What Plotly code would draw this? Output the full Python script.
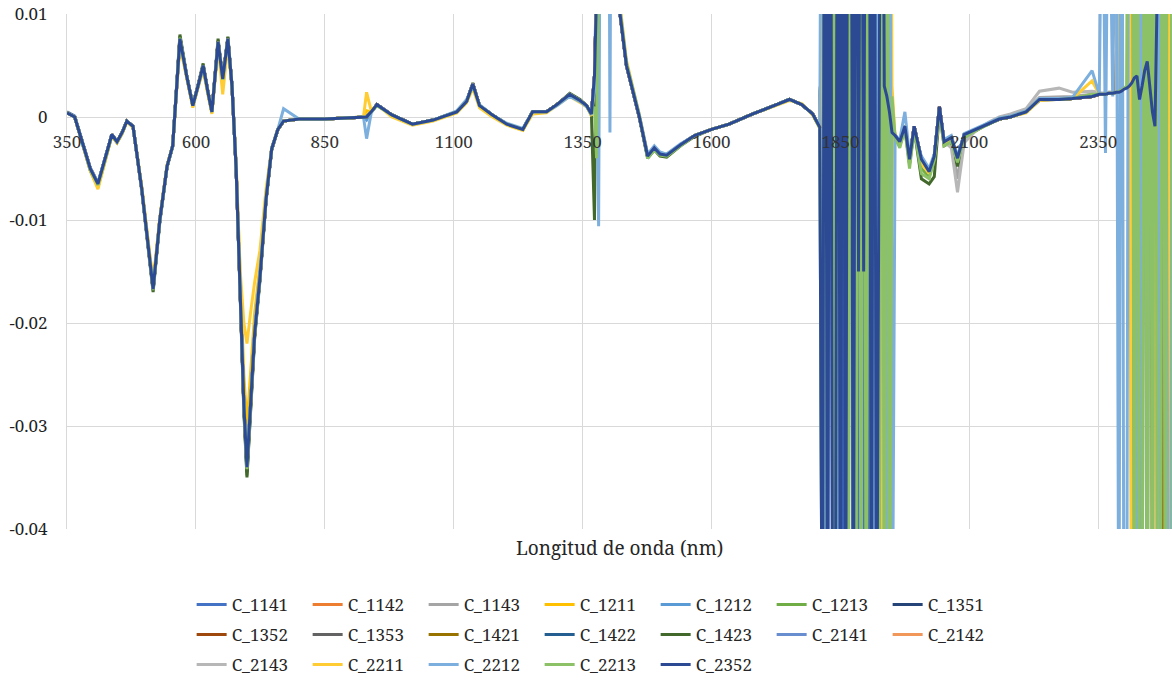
import plotly.graph_objects as go

# ---------------------------------------------------------------- data
# values are derivative absorbance in units of 1e-4
UNIT = 1e-4

wl_a = [350, 365, 380, 395, 410, 424, 437, 447, 457, 466,
        478, 495, 508, 517, 530, 544, 555, 569, 582, 594,
        604, 614, 623, 631, 643, 652, 662, 670, 678, 686,
        693, 699, 706, 714, 724, 736, 747, 759, 770, 800,
        850, 900, 925, 931, 940, 951, 980, 1020, 1060, 1106,
        1125, 1137, 1150, 1175, 1203, 1234, 1253, 1280, 1300, 1325,
        1345, 1358, 1367, 1373, 1377, 1381, 1385, 1400, 1403, 1406,
        1420, 1435, 1460, 1476, 1489, 1500, 1513, 1540, 1567, 1600,
        1634, 1680, 1731, 1751, 1775, 1796, 1810]
wl_band1 = [1815, 1820, 1825, 1830, 1835, 1840, 1845, 1850, 1855, 1860,
            1865, 1870, 1875, 1880, 1885, 1890, 1895, 1900, 1905, 1910,
            1915, 1920, 1925, 1930, 1935, 1940, 1945, 1950]
wl_b = [1956, 1965, 1975, 1984, 1993, 2007, 2022, 2032, 2042, 2051,
        2065, 2077, 2090, 2113, 2138, 2158, 2180, 2210, 2236, 2274,
        2300, 2338, 2352, 2358, 2364, 2370, 2378]
wl_band2 = [2385, 2390, 2395, 2400, 2405, 2410, 2415, 2420, 2425, 2430,
            2435, 2440, 2445, 2450, 2455, 2460, 2465, 2470, 2475, 2480,
            2485, 2490, 2495, 2500]
wavelength = wl_a + wl_band1 + wl_b + wl_band2

C_1141 = ([5, 1, -24, -49, -64, -40, -18, -24, -15, -4,
           -9, -69, -128, -165, -100, -48, -28, 75, 40, 11,
           30, 49, 25, 5, 72, 37, 75, 30, -50, -178,
           -278, -338, -274, -210, -157, -80, -31, -12, -4, -2,
           -2, -1, 0, 0, 5, 12, 2, -7, -3, 5,
           15, 31, 11, 2, -7, -12, 5, 5, 12, 22,
           16, 11, 3, 40, 120, 250, 350, 400, 400, 400,
           110, 50, 0, -37, -30, -36, -37, -27, -18, -12,
           -7, 3, 13, 17, 12, 3, -10]
          + [-600, 600, -600, 600, -600, 600, -600, 600, -600, 600,
             -600, 600, -600, 600, -600, 600, -600, 600, -600, 600,
             -600, 600, -600, 600, -600, 600, -600, 0]
          + [-18, -24, -10, -40, -10, -40, -52, -38, 8, -24,
             -20, -40, -17, -12, -6, -2, 0, 5, 16, 17,
             18, 20, 22, 22, 22, 23, 23]
          + [23, 600, 600, 600, 600, 600, 600, 600, 600, 600,
             600, 600, 600, 600, 600, 600, 600, 600, 600, 600,
             600, 600, 600, 600])

C_1142 = ([4, 0, -25, -50, -65, -40, -17, -24, -15, -4,
           -9, -70, -130, -166, -100, -48, -28, 77, 40, 11,
           30, 50, 25, 5, 73, 37, 76, 30, -50, -181,
           -281, -341, -276, -210, -157, -80, -31, -12, -4, -2,
           -2, -1, 0, 0, 5, 12, 2, -7, -3, 5,
           15, 32, 11, 2, -7, -12, 5, 5, 12, 22,
           16, 11, 3, 40, 120, 250, 350, 400, 400, 400,
           110, 50, 0, -38, -30, -36, -37, -27, -18, -12,
           -7, 3, 13, 17, 12, 3, -10]
          + [600, 600, 600, 600, 600, 600, 600, 600, 600, 600,
             600, 600, 600, 600, 600, 600, 600, 600, 600, 600,
             600, 600, 600, 160, 26, 12, 0, -12]
          + [-18, -24, -9, -41, -9, -41, -53, -38, 10, -24,
             -20, -40, -17, -12, -6, -2, 0, 5, 17, 17,
             18, 20, 22, 22, 22, 23, 23]
          + [23, 600, 600, 600, 600, 600, 600, 600, 600, 600,
             600, 600, 600, 600, 600, 600, 600, 600, 600, 600,
             600, 600, 600, 600])

C_1143 = ([4, 0, -25, -50, -65, -40, -17, -24, -15, -4,
           -9, -70, -129, -166, -100, -48, -28, 76, 40, 11,
           30, 50, 25, 5, 73, 37, 76, 30, -50, -180,
           -280, -338, -274, -210, -157, -80, -31, -12, -4, -2,
           -2, -1, 0, 0, 5, 12, 2, -7, -3, 5,
           15, 32, 11, 2, -7, -12, 5, 5, 12, 22,
           16, 11, 3, 40, 120, 250, 350, 400, 400, 400,
           110, 50, 0, -38, -30, -36, -37, -27, -18, -12,
           -7, 3, 13, 17, 12, 3, -10]
          + [600, 600, 600, 600, 600, 600, 600, 600, 600, 600,
             600, 600, 600, 600, 600, 600, 600, 600, 600, 600,
             600, 600, 600, 170, 27, 13, 1, -12]
          + [-18, -24, -9, -41, -9, -41, -53, -38, 10, -24,
             -25, -60, -20, -12, -6, -2, 0, 6, 19, 20,
             20, 22, 23, 23, 23, 24, 24]
          + [23, 600, 600, 600, 600, 600, 600, 600, 600, 600,
             600, 600, 600, 600, 600, 600, 600, 600, 600, 600,
             600, 600, 600, 600])

C_1211 = ([4, 0, -25, -50, -66, -40, -17, -24, -15, -4,
           -9, -68, -126, -162, -98, -47, -28, 72, 39, 10,
           29, 47, 24, 4, 70, 34, 72, 29, -47, -165,
           -250, -300, -245, -190, -145, -75, -30, -12, -4, -2,
           -2, -1, 0, 6, 5, 12, 2, -7, -3, 5,
           15, 30, 11, 2, -7, -12, 5, 5, 12, 21,
           15, 10, 2, 35, 115, 245, 345, 390, 400, 400,
           115, 52, 1, -37, -30, -36, -37, -27, -18, -12,
           -7, 3, 13, 17, 12, 3, -10]
          + [600, 600, 600, 600, 600, 600, 600, 600, 600, 600,
             600, 600, 600, 600, 600, 600, 600, 600, 600, 600,
             600, 600, -600, 600, -600, 600, -600, 0]
          + [-18, -24, -9, -41, -9, -41, -53, -38, 10, -24,
             -20, -40, -17, -12, -6, -2, 0, 5, 17, 17,
             18, 20, 22, 22, 22, 23, 23]
          + [23, 600, 600, 600, 600, 600, 600, 600, 600, 600,
             600, 600, 600, 600, 600, 600, 600, 600, 600, 600,
             600, 600, 600, 600])

C_1212 = ([4, 0, -25, -50, -65, -40, -17, -24, -15, -4,
           -9, -70, -130, -167, -100, -48, -28, 76, 40, 11,
           30, 50, 25, 5, 73, 37, 76, 30, -50, -179,
           -279, -339, -275, -210, -157, -80, -31, -12, -4, -2,
           -2, -1, 0, -3, 5, 12, 2, -7, -3, 5,
           15, 32, 11, 2, -7, -12, 5, 5, 12, 22,
           16, 11, 3, 40, 120, 250, 350, 400, 400, 400,
           110, 50, 0, -38, -30, -36, -37, -27, -18, -12,
           -7, 3, 13, 17, 12, 3, -10]
          + [600, 600, 600, 600, 600, 600, 600, 600, 600, 600,
             600, 600, 600, 600, 600, 600, 600, 600, 600, 600,
             600, 600, 600, 150, 25, 12, 0, -12]
          + [-18, -24, -9, -41, -9, -41, -53, -38, 10, -24,
             -20, -40, -17, -12, -6, -2, 0, 5, 17, 17,
             18, 20, 22, 22, 22, 23, 23]
          + [23, 600, 600, 600, 600, 600, 600, 600, 600, 600,
             600, 600, 600, 600, 600, 600, 600, 600, 600, 600,
             600, 600, 600, 600])

C_1213 = ([4, 0, -25, -51, -66, -41, -17, -24, -15, -4,
           -9, -70, -131, -168, -101, -48, -28, 78, 40, 11,
           30, 50, 25, 5, 74, 37, 77, 30, -50, -182,
           -284, -348, -280, -213, -158, -81, -31, -12, -4, -2,
           -2, -1, 0, 0, 5, 12, 2, -7, -3, 5,
           15, 32, 11, 2, -7, -12, 5, 5, 12, 22,
           16, 11, 3, 40, 120, 250, 350, 400, 400, 400,
           110, 50, 0, -39, -31, -37, -38, -27, -18, -12,
           -7, 3, 13, 17, 12, 3, -10]
          + [600, 600, 600, 600, 600, 600, 600, 600, 600, 600,
             600, 600, 600, 600, 600, 600, 600, 600, 600, 600,
             600, 600, 600, 180, 28, 13, 0, -13]
          + [-18, -26, -10, -44, -10, -50, -58, -40, 8, -25,
             -21, -42, -18, -12, -6, -2, 0, 5, 17, 17,
             18, 20, 22, 22, 22, 23, 23]
          + [23, 600, 600, 600, 600, 600, 600, 600, 600, 600,
             600, 600, 600, 600, 600, 600, 600, 600, 600, 600,
             600, 600, 600, 600])

C_1351 = ([4, 0, -25, -50, -65, -40, -17, -24, -15, -4,
           -9, -70, -131, -168, -100, -48, -28, 78, 40, 11,
           30, 50, 25, 5, 74, 37, 77, 30, -50, -181,
           -282, -345, -277, -211, -157, -80, -31, -12, -4, -2,
           -2, -1, 0, 0, 5, 12, 2, -7, -3, 5,
           15, 32, 11, 2, -7, -12, 5, 5, 12, 22,
           16, 11, 3, 40, 120, 250, 350, 400, 400, 400,
           110, 50, 0, -38, -30, -36, -37, -27, -18, -12,
           -7, 3, 13, 17, 12, 3, -10]
          + [600, 600, 600, 600, 600, 600, 600, 600, 600, 600,
             600, 600, 600, 600, 600, 600, 600, 600, 600, 600,
             600, 600, 600, 200, 24, 10, -2, -15]
          + [-18, -24, -9, -41, -9, -41, -53, -38, 10, -24,
             -20, -40, -17, -12, -6, -2, 0, 5, 17, 17,
             18, 20, 22, 22, 22, 23, 23]
          + [23, 600, 600, 600, 600, 600, 600, 600, 600, 600,
             600, 600, 600, 600, 600, 600, 600, 600, 600, 600,
             600, 600, 600, 600])

C_1352 = ([4, 0, -25, -50, -65, -40, -17, -24, -15, -4,
           -9, -70, -130, -167, -100, -48, -28, 76, 40, 11,
           30, 50, 25, 5, 73, 37, 76, 30, -50, -180,
           -280, -340, -275, -210, -157, -80, -31, -12, -4, -2,
           -2, -1, 0, 0, 5, 12, 2, -7, -3, 5,
           15, 32, 11, 2, -7, -12, 5, 5, 12, 22,
           16, 11, 3, 40, 120, 250, 350, 400, 400, 400,
           110, 50, 0, -38, -30, -36, -37, -27, -18, -12,
           -7, 3, 13, 17, 12, 3, -10]
          + [600, 600, 600, 600, 600, 600, 600, 600, 600, 600,
             600, 600, 600, 600, 600, 600, 600, 600, 600, 600,
             600, 600, 600, 150, 25, 12, 0, -12]
          + [-18, -24, -9, -41, -9, -41, -53, -38, 10, -24,
             -20, -40, -17, -12, -6, -2, 0, 5, 17, 17,
             18, 20, 22, 22, 22, 23, 23]
          + [23, 600, 600, 600, 600, 600, 600, 600, 600, 600,
             600, 600, 600, 600, 600, 600, 600, 600, 600, 600,
             600, 600, 600, 600])

C_1353 = ([4, 0, -25, -50, -65, -40, -17, -24, -15, -4,
           -9, -70, -130, -167, -100, -48, -28, 76, 40, 11,
           30, 50, 25, 5, 73, 37, 76, 30, -50, -180,
           -280, -341, -275, -210, -157, -80, -31, -12, -4, -2,
           -2, -1, 0, 0, 5, 12, 2, -7, -3, 5,
           15, 32, 11, 2, -7, -12, 5, 5, 12, 22,
           16, 11, 3, 40, 120, 250, 350, 400, 400, 400,
           110, 50, 0, -38, -30, -36, -37, -27, -18, -12,
           -7, 3, 13, 17, 12, 3, -10]
          + [600, 600, 600, 600, 600, 600, 600, 600, 600, 600,
             600, 600, 600, 600, 600, 600, 600, 600, 600, 600,
             600, 600, 600, 150, 25, 12, 0, -12]
          + [-18, -24, -9, -41, -9, -41, -53, -38, 10, -24,
             -20, -40, -17, -12, -6, -2, 0, 5, 17, 17,
             18, 20, 22, 22, 22, 23, 23]
          + [23, 600, 600, 600, 600, 600, 600, 600, 600, 600,
             600, 600, 600, 600, 600, 600, 600, 600, 600, 600,
             600, 600, 600, 600])

C_1421 = ([4, 0, -25, -50, -65, -40, -17, -24, -15, -4,
           -9, -70, -130, -167, -100, -48, -28, 76, 40, 11,
           30, 50, 25, 5, 73, 37, 76, 30, -50, -180,
           -280, -340, -275, -210, -157, -80, -31, -12, -4, -2,
           -2, -1, 0, 0, 5, 12, 2, -7, -3, 5,
           15, 32, 11, 2, -7, -12, 5, 5, 12, 22,
           16, 11, 3, 40, 120, 250, 350, 400, 400, 400,
           110, 50, 0, -38, -30, -36, -37, -27, -18, -12,
           -7, 3, 13, 17, 12, 3, -10]
          + [600, 600, 600, 600, 600, 600, 600, 600, 600, 600,
             600, 600, 600, 600, 600, 600, 600, 600, 600, 600,
             600, 600, 600, 150, 25, 12, 0, -12]
          + [-18, -24, -9, -41, -9, -41, -53, -38, 10, -24,
             -20, -40, -17, -12, -6, -2, 0, 5, 17, 17,
             18, 20, 22, 22, 22, 23, 23]
          + [23, 600, 600, 600, 600, 600, -600, 600, -600, 600,
             -600, 600, -600, 600, -600, 600, -600, 600, -600, 600,
             -600, 600, -600, 600])

C_1422 = ([4, 0, -25, -50, -65, -40, -17, -24, -15, -4,
           -9, -70, -130, -167, -100, -48, -28, 76, 40, 11,
           30, 50, 25, 5, 73, 37, 76, 30, -50, -180,
           -280, -340, -275, -210, -157, -80, -31, -12, -4, -2,
           -2, -1, 0, 0, 5, 12, 2, -7, -3, 5,
           15, 32, 11, 2, -7, -12, 5, 5, 12, 22,
           16, 11, 3, 40, 120, 250, 350, 400, 400, 400,
           110, 50, 0, -38, -30, -36, -37, -27, -18, -12,
           -7, 3, 13, 17, 12, 3, -10]
          + [600, 600, 600, 600, 600, 600, 600, 600, 600, 600,
             600, 600, 600, 600, 600, 600, 600, 600, 600, 600,
             600, 600, 600, 150, 25, 12, 0, -12]
          + [-18, -24, -9, -41, -9, -41, -53, -38, 10, -24,
             -20, -40, -17, -12, -6, -2, 0, 5, 17, 17,
             18, 20, 22, 22, 22, 23, 23]
          + [23, 600, 600, 600, 600, 600, 600, 600, 600, 600,
             600, 600, 600, 600, 600, 600, 600, 600, 600, 600,
             600, 600, 600, 600])

C_1423 = ([4, 0, -26, -52, -68, -42, -18, -25, -16, -4,
           -9, -72, -133, -170, -102, -49, -29, 80, 41, 12,
           31, 52, 26, 6, 76, 38, 78, 31, -51, -184,
           -286, -350, -282, -214, -160, -82, -32, -12, -4, -2,
           -2, -1, 0, 0, 5, 12, 2, -7, -3, 5,
           15, 33, 11, 2, -7, -12, 5, 5, 12, 23,
           17, 11, 3, -100, 120, 250, 350, 400, 400, 400,
           110, 50, -1, -40, -32, -38, -39, -28, -19, -12,
           -7, 3, 13, 17, 12, 3, -10]
          + [600, 600, 600, 600, 600, 600, 600, 600, 600, 600,
             600, 600, 600, 600, 600, 600, 600, 600, 600, 600,
             600, 600, 600, 190, 30, 14, 1, -14]
          + [-19, -28, -11, -46, -12, -60, -65, -58, 5, -28,
             -24, -48, -20, -13, -6, -2, 0, 5, 17, 17,
             18, 20, 22, 22, 22, 23, 23]
          + [23, 600, 600, 600, 600, 600, 600, 600, 600, 600,
             600, 600, 600, 600, 600, 600, 600, 600, 600, 600,
             600, 600, 600, 600])

C_2141 = ([4, 0, -25, -50, -65, -40, -17, -24, -15, -4,
           -9, -70, -130, -167, -100, -48, -28, 76, 40, 11,
           30, 50, 25, 5, 73, 37, 76, 30, -50, -180,
           -280, -340, -275, -210, -157, -80, -31, -12, -4, -2,
           -2, -1, 0, 0, 5, 12, 2, -7, -3, 5,
           15, 32, 11, 2, -7, -12, 5, 5, 12, 22,
           16, 11, 3, 40, 120, 250, 350, 400, 400, 400,
           110, 50, 0, -38, -30, -36, -37, -27, -18, -12,
           -7, 3, 13, 17, 12, 3, -10]
          + [600, 600, 600, 600, 600, 600, 600, 600, 600, 600,
             600, 600, 600, 600, 600, 600, 600, 600, 600, 600,
             600, 600, 600, 150, 25, 12, 0, -12]
          + [-18, -24, -9, -41, -9, -41, -53, -38, 10, -24,
             -20, -40, -17, -12, -6, -2, 0, 5, 17, 17,
             18, 20, 22, 22, 22, 23, 23]
          + [23, 600, 600, 600, 600, 600, 600, 600, 600, 600,
             600, 600, 600, 600, 600, 600, 600, 600, 600, 600,
             600, 600, 600, 600])

C_2142 = ([4, 0, -25, -50, -65, -40, -17, -24, -15, -4,
           -9, -70, -130, -167, -100, -48, -28, 76, 40, 11,
           30, 50, 25, 5, 73, 37, 76, 30, -50, -180,
           -280, -340, -275, -210, -157, -80, -31, -12, -4, -2,
           -2, -1, 0, 0, 5, 12, 2, -7, -3, 5,
           15, 32, 11, 2, -7, -12, 5, 5, 12, 22,
           16, 11, 3, 40, 120, 250, 350, 400, 400, 400,
           110, 50, 0, -38, -30, -36, -37, -27, -18, -12,
           -7, 3, 13, 17, 12, 3, -10]
          + [600, 600, 600, 600, 600, 600, 600, 600, 600, 600,
             600, 600, 600, 600, 600, 600, 600, 600, 600, 600,
             600, 600, 600, 150, 25, 12, 0, -12]
          + [-18, -24, -9, -41, -9, -41, -53, -38, 10, -24,
             -20, -40, -17, -12, -6, -2, 0, 5, 17, 17,
             18, 20, 22, 22, 22, 23, 23]
          + [23, 600, 600, 600, 600, 600, 600, 600, 600, 600,
             600, 600, 600, 600, 600, 600, 600, 600, 600, 600,
             600, 600, 600, 600])

C_2143 = ([4, 0, -25, -50, -65, -40, -17, -24, -15, -4,
           -9, -70, -130, -167, -100, -48, -28, 76, 40, 11,
           30, 50, 25, 5, 73, 37, 76, 30, -50, -180,
           -280, -340, -275, -210, -157, -80, -31, -12, -4, -2,
           -2, -1, 0, 0, 5, 12, 2, -7, -3, 5,
           15, 32, 11, 2, -7, -12, 5, 5, 12, 22,
           16, 11, 3, 40, 120, 250, 350, 400, 400, 400,
           110, 50, 0, -38, -30, -36, -37, -27, -18, -12,
           -7, 3, 13, 17, 12, 3, -10]
          + [600, 600, 600, 600, 600, 600, 600, 600, 600, 600,
             600, 600, 600, 600, 600, 600, 600, 600, 600, 600,
             600, 600, 600, 150, 25, 12, 0, -12]
          + [-18, -24, -9, -41, -9, -41, -53, -38, 8, -24,
             -30, -73, -25, -13, -5, 0, 3, 8, 25, 28,
             24, 25, 24, 23, 23, 24, 24]
          + [23, 600, 600, 600, 600, 600, 600, 600, 600, 600,
             600, 600, 600, 600, 600, 600, 600, 600, 600, 600,
             600, 600, 600, 600])

C_2211 = ([4, 0, -26, -52, -70, -42, -18, -25, -16, -5,
           -10, -68, -125, -160, -98, -47, -28, 70, 38, 9,
           28, 46, 22, 3, 68, 22, 70, 28, -45, -150,
           -200, -220, -190, -160, -130, -70, -30, -12, -4, -2,
           -2, -1, 0, 24, 6, 12, 0, -8, -4, 4,
           14, 28, 9, 0, -8, -13, 3, 4, 11, 20,
           14, 10, 1, 30, 110, 240, 340, 380, 390, 380,
           120, 55, 2, -36, -30, -35, -36, -27, -18, -12,
           -7, 3, 12, 16, 13, 2, -11]
          + [600, 600, 600, 600, 600, -600, -600, -600, -600, -600,
             -600, -600, -600, -600, -600, -600, -600, -600, -600, -600,
             -600, -600, 600, -600, 600, -600, 600, 30]
          + [-20, -28, -12, -45, -12, -45, -55, -40, 5, -26,
             -22, -42, -18, -12, -6, -2, 0, 4, 16, 17,
             18, 35, 22, 22, 22, 23, 23]
          + [24, 24, 600, 600, 600, 600, -600, -600, -600, -600,
             -600, -600, -600, -600, -600, 600, -600, 600, 600, 600,
             600, -600, -600, -600])

C_2212 = ([4, 0, -25, -50, -64, -40, -17, -24, -15, -4,
           -9, -70, -128, -165, -100, -48, -28, 74, 40, 11,
           29, 48, 25, 5, 71, 36, 74, 30, -48, -175,
           -275, -335, -270, -205, -150, -78, -30, -12, 8, -2,
           -2, -1, 0, -21, 4, 12, 2, -7, -3, 6,
           17, 30, 12, 2, -6, -11, 5, 5, 11, 20,
           15, 10, 2, 30, 60, -106, 350, 400, -15, 400,
           115, 52, 2, -36, -28, -34, -36, -26, -18, -12,
           -7, 3, 13, 17, 12, 3, -10]
          + [600, -600, 600, 600, 600, 600, -600, -600, -600, -600,
             -600, -600, -600, -600, -600, -600, -600, -600, -600, -600,
             -600, 600, -600, 600, 600, -600, 600, -600]
          + [-18, -22, 5, -38, -15, -38, -50, -36, 8, -22,
             -18, -38, -16, -11, -5, -1, 1, 6, 18, 18,
             19, 45, 22, 300, -35, 300, 20]
          + [300, -600, 600, -600, -600, 600, 600, 600, -600, 600,
             -600, 600, -600, 600, 600, 600, 600, -600, 600, 600,
             -600, -600, 600, -600])

C_2213 = ([4, 0, -25, -51, -66, -41, -18, -24, -15, -4,
           -9, -70, -130, -168, -101, -48, -28, 77, 40, 11,
           30, 50, 24, 5, 73, 36, 76, 30, -50, -180,
           -282, -342, -276, -211, -158, -80, -31, -12, -4, -2,
           -2, -1, 0, 0, 5, 11, 2, -7, -3, 5,
           15, 31, 11, 2, -7, -12, 5, 5, 12, 22,
           16, 11, 3, 10, -40, 250, 350, 400, 400, 400,
           112, 52, 1, -40, -32, -37, -38, -28, -18, -12,
           -7, 3, 13, 17, 12, 3, -11]
          + [-600, 600, 600, 600, 600, -600, 600, 600, 600, 600,
             -600, 600, -600, -600, 600, -600, 600, -600, 600, -600,
             -600, -600, -600, 600, -600, 600, -600, 20]
          + [-20, -30, -12, -50, -12, -55, -60, -42, 5, -28,
             -24, -44, -20, -13, -7, -2, 0, 5, 17, 17,
             18, 22, 22, 22, 22, 23, 23]
          + [24, 25, 26, 28, 30, 600, 600, -600, 600, -600,
             -600, 600, -600, 600, -600, 600, -600, -600, 600, -600,
             600, 600, -600, 600])

C_2352 = ([4, 0, -25, -50, -65, -40, -17, -24, -15, -4,
           -9, -70, -130, -167, -100, -48, -28, 76, 40, 11,
           30, 50, 25, 5, 73, 37, 76, 30, -50, -180,
           -280, -340, -275, -210, -157, -80, -31, -12, -4, -2,
           -2, -1, 0, 0, 5, 12, 2, -7, -3, 5,
           15, 32, 11, 2, -7, -12, 5, 5, 12, 22,
           16, 11, 3, 40, 120, 250, 350, 400, 400, 400,
           110, 50, 0, -38, -30, -36, -37, -27, -18, -12,
           -7, 3, 13, 17, 12, 3, -10]
          + [-600, 600, -600, 600, -600, -600, 600, -600, 600, -600,
             600, 600, -600, 600, -150, 600, -150, 600, 600, -600,
             600, -600, 600, 600, 30, 20, 5, -15]
          + [-18, -24, -9, -41, -9, -41, -53, -38, 10, -24,
             -20, -40, -17, -12, -6, -2, 0, 5, 17, 17,
             18, 20, 22, 22, 22, 23, 23]
          + [24, 24, 25, 27, 28, 30, 33, 38, 40, 17,
             30, 45, 54, 30, 5, -9, 600, 600, 600, 600,
             600, 600, 600, 600])

series_names = ["C_1141", "C_1142", "C_1143", "C_1211", "C_1212", "C_1213", "C_1351",
                "C_1352", "C_1353", "C_1421", "C_1422", "C_1423", "C_2141", "C_2142",
                "C_2143", "C_2211", "C_2212", "C_2213", "C_2352"]
series_values = [C_1141, C_1142, C_1143, C_1211, C_1212, C_1213, C_1351,
                 C_1352, C_1353, C_1421, C_1422, C_1423, C_2141, C_2142,
                 C_2143, C_2211, C_2212, C_2213, C_2352]

x_ticks = [350, 600, 850, 1100, 1350, 1600, 1850, 2100, 2350]
y_ticks = [0.01, 0.0, -0.01, -0.02, -0.03, -0.04]
y_labels = ["0.01", "0", "-0.01", "-0.02", "-0.03", "-0.04"]
x_title = "Longitud de onda (nm)"

# ---------------------------------------------------------------- style
colors = ["#4472C4", "#ED7D31", "#A5A5A5", "#FFC000", "#5B9BD5", "#70AD47", "#264478",
          "#9E480E", "#636363", "#997300", "#255E91", "#43682B", "#698ED0", "#F1975A",
          "#B7B7B7", "#FFCD33", "#7CAFDD", "#8CC168", "#2C4A94"]
legend_of = ["legend"] * 7 + ["legend2"] * 7 + ["legend3"] * 5

for nm, vals in zip(series_names, series_values):
    assert len(vals) == len(wavelength), (nm, len(vals), len(wavelength))

FONT = "Noto Serif"

fig = go.Figure()
for nm, vals, col, leg in zip(series_names, series_values, colors, legend_of):
    fig.add_trace(go.Scatter(
        x=wavelength, y=[v * UNIT for v in vals], mode="lines", name=nm,
        line=dict(color=col, width=3), legend=leg))

legend_common = dict(orientation="h", xanchor="left", yanchor="middle",
                     entrywidth=71, entrywidthmode="pixels",
                     font=dict(family=FONT, size=17, color="#262626"),
                     bgcolor="rgba(0,0,0,0)", traceorder="normal")

fig.update_layout(
    width=1172, height=687,
    margin=dict(l=67, r=0, t=14, b=158, autoexpand=False),
    paper_bgcolor="white", plot_bgcolor="white",
    font=dict(family=FONT, size=17, color="#262626"),
    xaxis=dict(range=[350, 2493], tickvals=x_ticks, ticktext=[str(v) for v in x_ticks],
               showgrid=True, gridcolor="#D9D9D9", gridwidth=1, zeroline=False,
               showline=False, ticks="", anchor="free", position=0.8,
               ticklabelstandoff=13, tickfont=dict(family=FONT, size=17, color="#333333")),
    yaxis=dict(range=[-0.04, 0.01], tickvals=y_ticks, ticktext=y_labels,
               showgrid=True, gridcolor="#D9D9D9", gridwidth=1, zeroline=False,
               showline=True, linecolor="#D9D9D9", linewidth=1, ticks="",
               ticklabelstandoff=15, tickfont=dict(family=FONT, size=17, color="#1F1F1F")),
    legend=dict(x=0.1128, y=-0.1476, **legend_common),
    legend2=dict(x=0.1128, y=-0.2058, **legend_common),
    legend3=dict(x=0.1128, y=-0.2641, **legend_common),
    annotations=[dict(text=x_title, x=0.5, y=-0.037, xref="paper", yref="paper",
                      showarrow=False, xanchor="center", yanchor="middle",
                      font=dict(family=FONT, size=19, color="#262626"))],
)

# remove the default 8 px page margin so the figure sits at the window's corner
fig.write_html("out.html", config={"displayModeBar": False},
               post_script="document.body.style.margin='0px';")
